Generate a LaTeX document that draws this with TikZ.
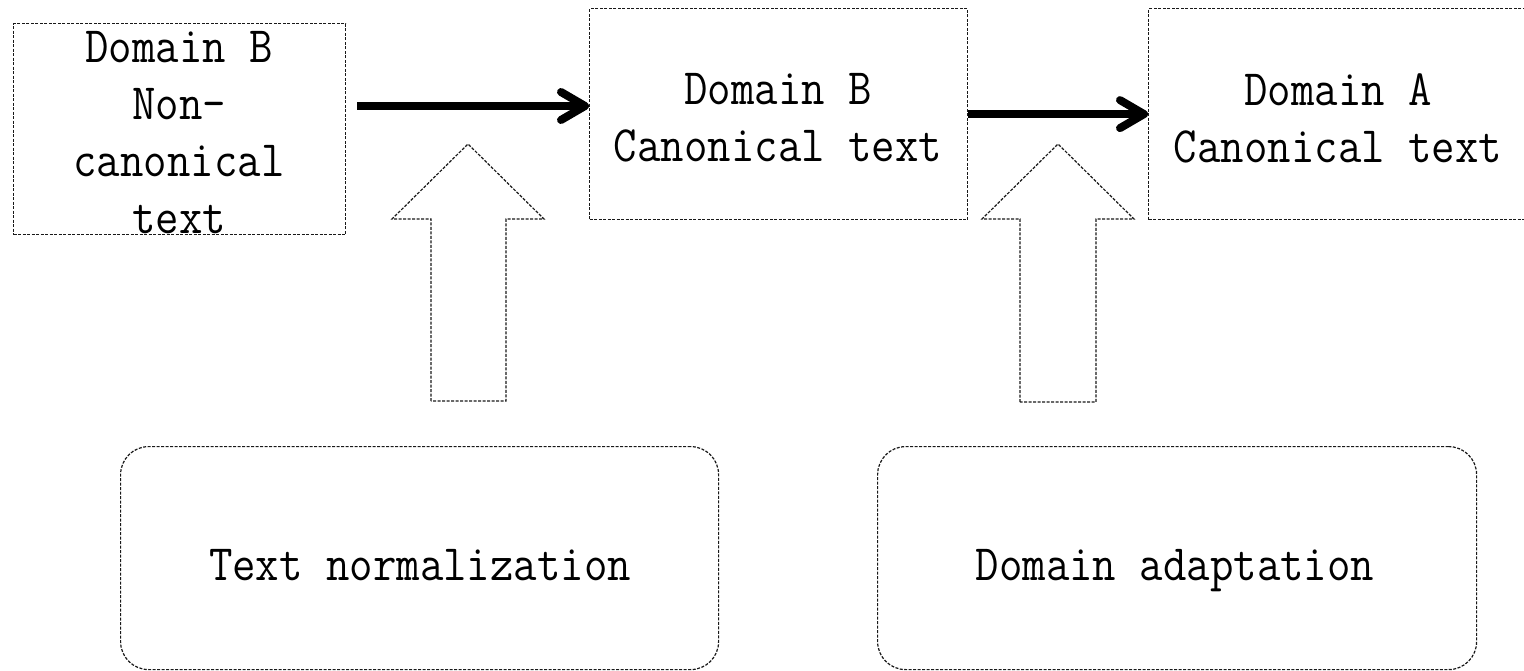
\documentclass[tikz,border=0pt]{standalone}
\usepackage{graphicx}
\usetikzlibrary{arrows.meta,calc}
\newcommand{\tlin}[1]{\scalebox{1}[1.12]{#1}}
\begin{document}
\begin{tikzpicture}[x=1pt,y=-1pt,
  dbox/.style={draw=black!90, dash pattern=on 3pt off 1.5pt, line width=1.2pt},
  sqbox/.style={dbox, rectangle, inner sep=0pt, anchor=north west, minimum height=211pt},
  rbox/.style={dbox, rectangle, rounded corners=28pt, inner sep=0pt, anchor=north west, minimum height=223pt},
  txt/.style={font=\ttfamily\fontsize{45.5}{57}\selectfont, align=center, inner sep=0pt, text=black},
  flow/.style={line width=8pt, -{Straight Barb[length=24pt,width=28pt,round]}},
]
\useasboundingbox (0,0) rectangle (1524,671);
% boxes
\node[sqbox, minimum width=332pt] (b1) at (13,23) {};
\node[sqbox, minimum width=378pt] (b2) at (589,8) {};
\node[sqbox, minimum width=380pt] (b3) at (1148,8) {};
\node[txt, anchor=north] (t1) at (179,31.5) {\tlin{Domain B}\\\tlin{Non-}\\\tlin{canonical}\\\tlin{text}};
\node[txt, anchor=north] (t2) at (778,73.5) {\tlin{Domain B}\\\tlin{Canonical text}};
\node[txt, anchor=north] (t3) at (1338,73.5) {\tlin{Domain A}\\\tlin{Canonical text}};
% rounded boxes
\node[rbox, minimum width=598pt] (r1) at (120,446) {};
\node[rbox, minimum width=599pt] (r2) at (877,446) {};
\node[txt, anchor=base] (l1) at (420,580) {\tlin{Text normalization}};
\node[txt, anchor=base] (l2) at (1175,580) {\tlin{Domain adaptation}};
% flow arrows
\coordinate (a1s) at (357,106);
\draw[flow] (a1s) -- (a1s -| b2.west);
\draw[flow] (b2.east) -- (b3.west);
% block arrows
\draw[dbox] (431,401) -- (431,219) -- (392,219) -- (468,144) -- (544,219) -- (506,219) -- (506,401) -- cycle;
\draw[dbox] (1020,402) -- (1020,219) -- (982,219) -- (1058,144) -- (1134,219) -- (1096,219) -- (1096,402) -- cycle;
\end{tikzpicture}
\end{document}
